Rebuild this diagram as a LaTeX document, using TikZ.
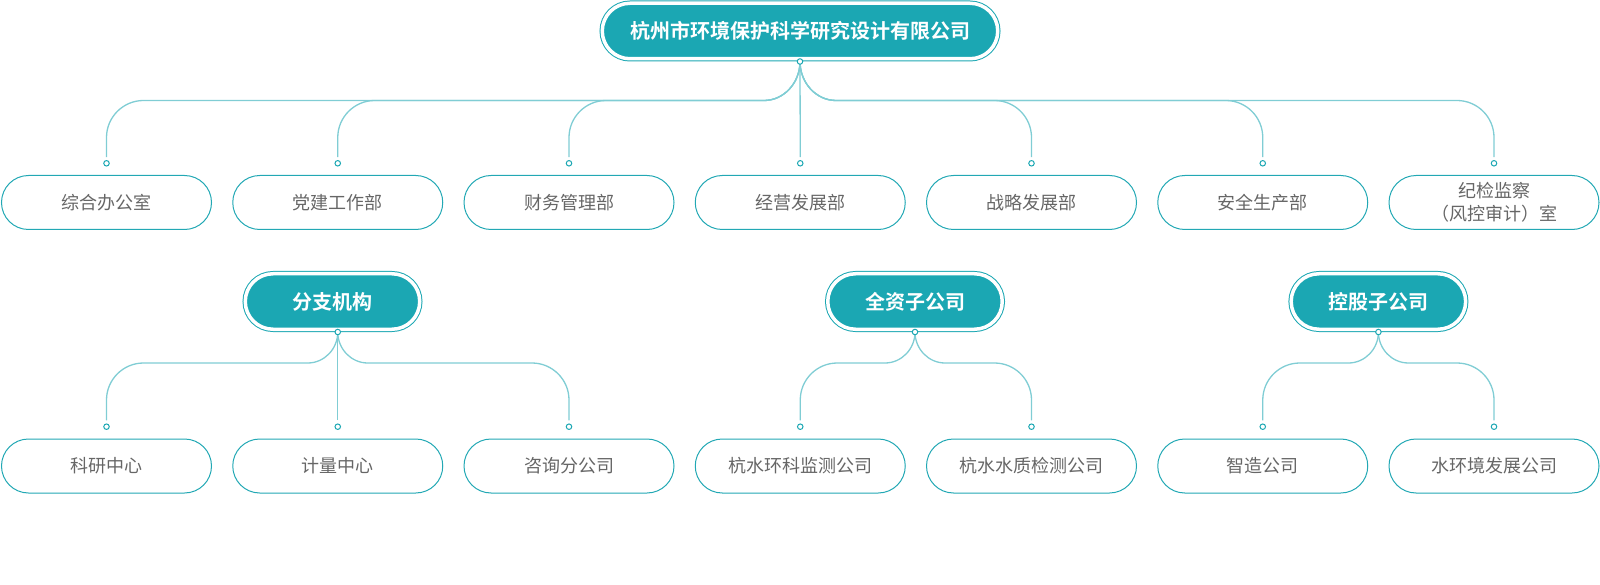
\documentclass[tikz,border=0pt]{standalone}
\usepackage{fontspec}
\newfontfamily\cjk{Noto Sans CJK SC}[BoldFont={Noto Sans CJK SC Bold}]
\usetikzlibrary{calc,backgrounds}
\definecolor{tealfill}{HTML}{1BA7B3}
\definecolor{tealline}{HTML}{80CDD4}
\definecolor{tealborder}{HTML}{22A8B4}
\definecolor{txtgray}{HTML}{666666}
% #1 hub, #2 child dot, #3 drop to horizontal, #4 hub-curve width, #5 side (-1 left, 1 right)
\newcommand{\orgbranch}[5]{%
  \draw[conn] (#1.center) .. controls +(0,{0.55*(#3)}) and +({-(#5)*0.55*(#4)},0) .. ($(#1.center)+({(#5)*(#4)},#3)$)
    -- ($(#2|-#1)+({-(#5)*37},#3)$) .. controls +({(#5)*20.4},0) and +(0,-20.4) .. ($(#2|-#1)+(0,{(#3)+37})$)
    -- ([yshift=3pt]#2.north);}
\begin{document}
\begin{tikzpicture}[x=1pt,y=-1pt,
  conn/.style={draw=tealline,line width=1.3pt},
  box/.style={draw=tealborder,line width=1pt,rounded corners=27pt,minimum width=210pt,minimum height=54pt,inner sep=0pt,text=txtgray,align=center,font=\cjk\fontsize{18pt}{23pt}\selectfont},
  hdr/.style={fill=tealfill,draw=tealfill,double=white,double distance=3.5pt,line width=1pt,rounded corners=27.75pt,minimum height=55.5pt,inner sep=0pt,outer sep=2.75pt,text=white,font=\cjk\bfseries\fontsize{20pt}{24pt}\selectfont},
  dot/.style={circle,draw=tealfill,fill=white,line width=1pt,minimum size=5.5pt,inner sep=0pt}]
\useasboundingbox (0,0) rectangle (1600,585);
% headers
\node[hdr,minimum width=395.5pt] (top) at (800,31) {杭州市环境保护科学研究设计有限公司};
\node[dot] (h0) at (top.south) {};
\node[hdr,minimum width=174.5pt] (g1) at (332.5,301.5) {分支机构};
\node[dot] (g1h) at (337.75,332) {};
\node[hdr,minimum width=174.5pt] (g2) at (915,301.5) {全资子公司};
\node[dot] (g2h) at (g2.south) {};
\node[hdr,minimum width=174.5pt] (g3) at (1378.4,301.5) {控股子公司};
\node[dot] (g3h) at (g3.south) {};
% top row
\node[dot] (t1) at (106.5,163.3) {};
\node[dot] (t2) at (337.75,163.3) {};
\node[dot] (t3) at (569,163.3) {};
\node[dot] (t4) at (800.25,163.3) {};
\node[dot] (t5) at (1031.5,163.3) {};
\node[dot] (t6) at (1262.75,163.3) {};
\node[dot] (t7) at (1494,163.3) {};
\node[box] (b1) at (106.5,202.5) {综合办公室};
\node[box] (b2) at (337.75,202.5) {党建工作部};
\node[box] (b3) at (569,202.5) {财务管理部};
\node[box] (b4) at (800.25,202.5) {经营发展部};
\node[box] (b5) at (1031.5,202.5) {战略发展部};
\node[box] (b6) at (1262.75,202.5) {安全生产部};
\node[box] (b7) at (1494,202.5) {纪检监察\\（风控审计）室};
% bottom row
\node[dot] (s1) at (106.5,426.7) {};
\node[dot] (s2) at (337.75,426.7) {};
\node[dot] (s3) at (569,426.7) {};
\node[dot] (s4) at (800.25,426.7) {};
\node[dot] (s5) at (1031.5,426.7) {};
\node[dot] (s6) at (1262.75,426.7) {};
\node[dot] (s7) at (1494,426.7) {};
\node[box] (c1) at (106.5,466) {科研中心};
\node[box] (c2) at (337.75,466) {计量中心};
\node[box] (c3) at (569,466) {咨询分公司};
\node[box] (c4) at (800.25,466) {杭水环科监测公司};
\node[box] (c5) at (1031.5,466) {杭水水质检测公司};
\node[box] (c6) at (1262.75,466) {智造公司};
\node[box] (c7) at (1494,466) {水环境发展公司};
% connectors
\begin{scope}[on background layer]
\orgbranch{h0}{t1}{39}{36}{-1}
\orgbranch{h0}{t2}{39}{36}{-1}
\orgbranch{h0}{t3}{39}{36}{-1}
\draw[conn] (h0.center) -- ([yshift=3pt]t4.north);
\orgbranch{h0}{t5}{39}{36}{1}
\orgbranch{h0}{t6}{39}{36}{1}
\orgbranch{h0}{t7}{39}{36}{1}
\orgbranch{g1h}{s1}{31}{30}{-1}
\draw[conn] (g1h.center) -- ([yshift=3pt]s2.north);
\orgbranch{g1h}{s3}{31}{30}{1}
\orgbranch{g2h}{s4}{31}{30}{-1}
\orgbranch{g2h}{s5}{31}{30}{1}
\orgbranch{g3h}{s6}{31}{30}{-1}
\orgbranch{g3h}{s7}{31}{30}{1}
\end{scope}
\end{tikzpicture}
\end{document}
